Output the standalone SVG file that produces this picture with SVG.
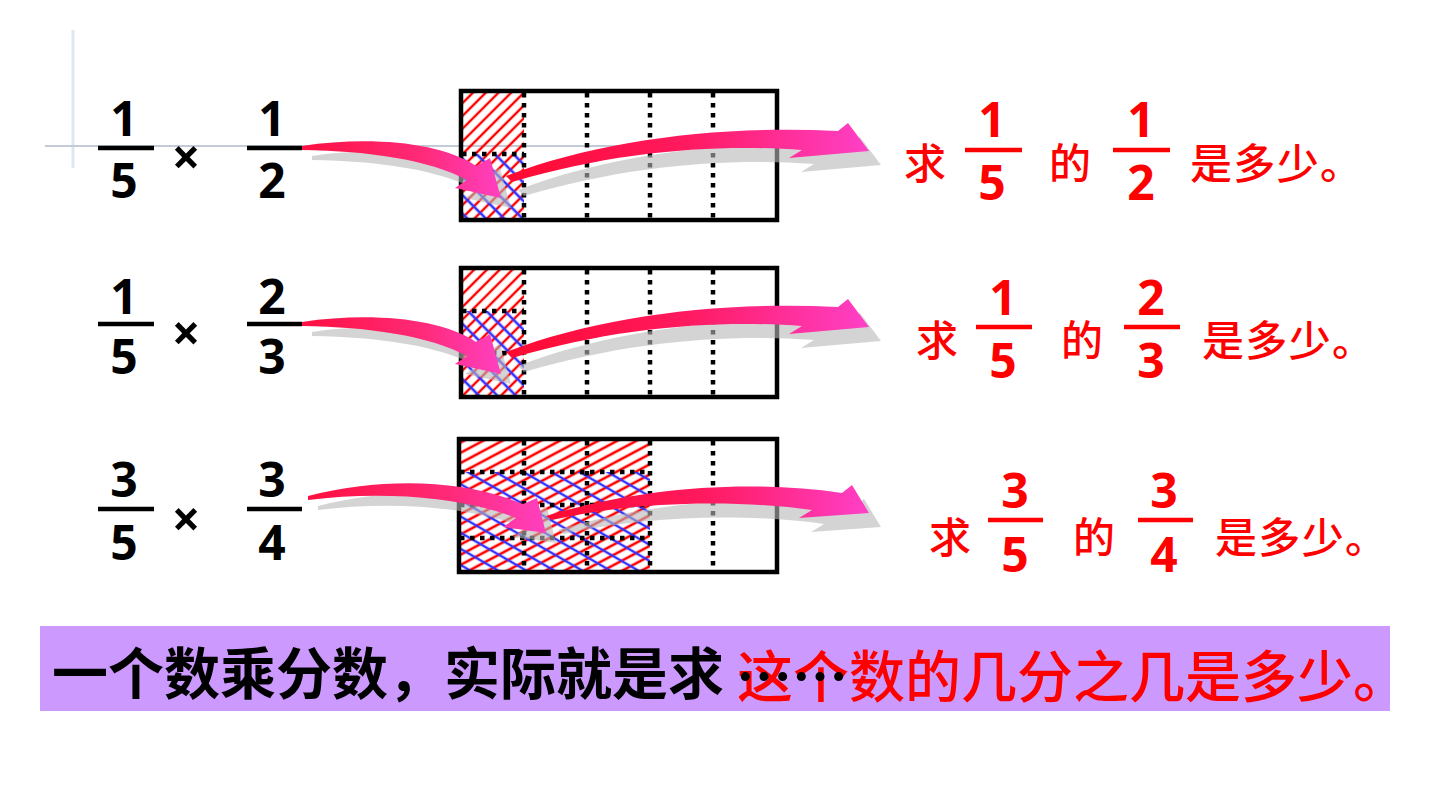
<svg xmlns="http://www.w3.org/2000/svg" width="1440" height="810" viewBox="0 0 1440 810">
<defs>
<style>
.num{font-family:"Noto Sans","Liberation Sans",sans-serif;font-weight:bold;font-size:48px;text-anchor:middle;fill:#000}
.rnum{font-family:"Noto Sans","Liberation Sans",sans-serif;font-weight:bold;font-size:48px;text-anchor:middle;fill:#ff0000}
.times{font-family:"Noto Sans","Liberation Sans",sans-serif;font-weight:bold;font-size:50px;text-anchor:middle;fill:#000}
.cn{font-family:"Noto Sans CJK SC",sans-serif;font-size:42px;font-weight:500;fill:#ff0000}
.bar{stroke:#000;stroke-width:4.5}
.rbar{stroke:#ff0000;stroke-width:4.5}
.box{fill:none;stroke:#000;stroke-width:4.5}
.dot{stroke:#000;stroke-width:4.5;stroke-dasharray:4.5 5.5;fill:none}
.shadow{fill:#b8b8b8;opacity:0.6}
.banner{fill:#cc99ff}
.big{font-family:"Noto Sans CJK SC",sans-serif;font-size:56px}
</style>
<pattern id="red45" width="9" height="9" patternUnits="userSpaceOnUse" patternTransform="rotate(-45)">
<line x1="0" y1="4" x2="9" y2="4" stroke="#ff0000" stroke-width="2.4"/>
</pattern>
<pattern id="blue45" width="13" height="13" patternUnits="userSpaceOnUse" patternTransform="rotate(45)">
<line x1="0" y1="6" x2="13" y2="6" stroke="#3333ff" stroke-width="2.6"/>
</pattern>
<pattern id="red30" width="9" height="9" patternUnits="userSpaceOnUse" patternTransform="rotate(-28)">
<line x1="0" y1="4" x2="9" y2="4" stroke="#ff0000" stroke-width="2.6"/>
</pattern>
<pattern id="blue30" width="14" height="14" patternUnits="userSpaceOnUse" patternTransform="rotate(30)">
<line x1="0" y1="7" x2="14" y2="7" stroke="#3333ff" stroke-width="2.4"/>
</pattern>
<linearGradient id="pinkA" x1="0" y1="0" x2="1" y2="0">
<stop offset="0" stop-color="#ff1040"/>
<stop offset="0.6" stop-color="#ff2a78"/>
<stop offset="1" stop-color="#ff40c0"/>
</linearGradient>
<linearGradient id="pinkB" x1="0" y1="0" x2="1" y2="0">
<stop offset="0" stop-color="#ff0a30"/>
<stop offset="0.5" stop-color="#ff1a60"/>
<stop offset="1" stop-color="#ff40c8"/>
</linearGradient>
<path id="arrA1" d="M 302 146 C 370 136, 440 142, 476 166 L 490 158 L 501 198 L 455 188 L 467 180 C 430 160, 370 151, 302 150 Z"/>
<path id="arrB1" d="M 506 176 C 600 140, 720 125, 838 131 L 848 123 L 869 151 L 789 158 L 802 150 C 720 144, 620 150, 512 182 Z"/>
<path id="arrA3" d="M 308 496 C 380 478, 460 478, 523 504 L 537 498 L 546 533 L 503 527 L 516 518 C 460 496, 380 491, 308 500 Z"/>
<path id="arrB3" d="M 546 516 C 630 490, 740 478, 842 493 L 852 485 L 869 513 L 799 518 L 812 510 C 740 500, 640 500, 552 520 Z"/>
</defs>

<rect width="1440" height="810" fill="#ffffff"/>

<g id="decoration">
<line x1="73" y1="30" x2="73" y2="168" stroke="#dde7f3" stroke-width="3"/>
<line x1="45" y1="146" x2="800" y2="146" stroke="#c3cbd8" stroke-width="2"/>
</g>

<g id="left-row1">
<text class="num" x="124" y="136">1</text>
<line class="bar" x1="98" y1="148" x2="154" y2="148"/>
<text class="num" x="124" y="198">5</text>
<text class="times" x="186" y="175">×</text>
<text class="num" x="272" y="136">1</text>
<line class="bar" x1="247" y1="148" x2="302" y2="148"/>
<text class="num" x="272" y="198">2</text>
</g>
<g id="left-row2">
<text class="num" x="124" y="314">1</text>
<line class="bar" x1="98" y1="324" x2="154" y2="324"/>
<text class="num" x="124" y="374">5</text>
<text class="times" x="186" y="351">×</text>
<text class="num" x="272" y="314">2</text>
<line class="bar" x1="247" y1="324" x2="302" y2="324"/>
<text class="num" x="272" y="374">3</text>
</g>
<g id="left-row3">
<text class="num" x="124" y="497">3</text>
<line class="bar" x1="98" y1="509" x2="154" y2="509"/>
<text class="num" x="124" y="560">5</text>
<text class="times" x="186" y="537">×</text>
<text class="num" x="272" y="497">3</text>
<line class="bar" x1="247" y1="509" x2="302" y2="509"/>
<text class="num" x="272" y="560">4</text>
</g>

<g id="box1">
<rect x="462" y="92" width="62" height="62" fill="url(#red45)"/>
<rect x="462" y="154" width="62" height="66" fill="url(#red45)"/>
<rect x="462" y="154" width="62" height="66" fill="url(#blue45)"/>
<line class="dot" x1="462" y1="154" x2="524" y2="154"/>
<line class="dot" x1="524" y1="93" x2="524" y2="219"/>
<line class="dot" x1="587" y1="93" x2="587" y2="219"/>
<line class="dot" x1="650" y1="93" x2="650" y2="219"/>
<line class="dot" x1="713" y1="93" x2="713" y2="219"/>
<rect class="box" x="461" y="91" width="316" height="129"/>
</g>

<g id="box2">
<rect x="462" y="269" width="62" height="42" fill="url(#red45)"/>
<rect x="462" y="311" width="62" height="85" fill="url(#red45)"/>
<rect x="462" y="311" width="62" height="85" fill="url(#blue45)"/>
<line class="dot" x1="462" y1="311" x2="524" y2="311"/>
<line class="dot" x1="462" y1="353" x2="524" y2="353"/>
<line class="dot" x1="524" y1="270" x2="524" y2="396"/>
<line class="dot" x1="587" y1="270" x2="587" y2="396"/>
<line class="dot" x1="650" y1="270" x2="650" y2="396"/>
<line class="dot" x1="713" y1="270" x2="713" y2="396"/>
<rect class="box" x="461" y="268" width="316" height="129"/>
</g>

<g id="box3">
<rect x="460" y="440" width="190" height="32" fill="url(#red30)"/>
<rect x="460" y="472" width="190" height="99" fill="url(#red30)"/>
<rect x="460" y="472" width="190" height="99" fill="url(#blue30)"/>
<line class="dot" x1="460" y1="472" x2="650" y2="472"/>
<line class="dot" x1="460" y1="505" x2="650" y2="505"/>
<line class="dot" x1="460" y1="538" x2="650" y2="538"/>
<line class="dot" x1="524" y1="441" x2="524" y2="570"/>
<line class="dot" x1="587" y1="441" x2="587" y2="570"/>
<line class="dot" x1="650" y1="441" x2="650" y2="570"/>
<line class="dot" x1="713" y1="441" x2="713" y2="570"/>
<rect class="box" x="459" y="439" width="318" height="133"/>
</g>

<g id="connectors">
<g id="arrows-row1">
<use href="#arrB1" class="shadow" transform="translate(12,14)"/>
<use href="#arrA1" class="shadow" transform="translate(10,10)"/>
<use href="#arrB1" fill="url(#pinkB)"/>
<use href="#arrA1" fill="url(#pinkA)"/>
</g>
<g id="arrows-row2" transform="translate(0,176)">
<use href="#arrB1" class="shadow" transform="translate(12,14)"/>
<use href="#arrA1" class="shadow" transform="translate(10,10)"/>
<use href="#arrB1" fill="url(#pinkB)"/>
<use href="#arrA1" fill="url(#pinkA)"/>
</g>
<g id="arrows-row3">
<use href="#arrB3" class="shadow" transform="translate(12,14)"/>
<use href="#arrA3" class="shadow" transform="translate(10,10)"/>
<use href="#arrB3" fill="url(#pinkB)"/>
<use href="#arrA3" fill="url(#pinkA)"/>
</g>
</g>

<g id="right-row1">
<text class="cn" x="904" y="179">求</text>
<text class="rnum" x="992" y="137">1</text>
<line class="rbar" x1="965" y1="150" x2="1022" y2="150"/>
<text class="rnum" x="992" y="200">5</text>
<text class="cn" x="1049" y="179">的</text>
<text class="rnum" x="1141" y="137">1</text>
<line class="rbar" x1="1113" y1="150" x2="1170" y2="150"/>
<text class="rnum" x="1141" y="200">2</text>
<text class="cn" x="1190" y="179" textLength="172">是多少。</text>
</g>
<g id="right-row2">
<text class="cn" x="916" y="356">求</text>
<text class="rnum" x="1003" y="315">1</text>
<line class="rbar" x1="976" y1="327" x2="1032" y2="327"/>
<text class="rnum" x="1003" y="378">5</text>
<text class="cn" x="1061" y="356">的</text>
<text class="rnum" x="1151" y="315">2</text>
<line class="rbar" x1="1124" y1="327" x2="1180" y2="327"/>
<text class="rnum" x="1151" y="378">3</text>
<text class="cn" x="1202" y="356" textLength="172">是多少。</text>
</g>
<g id="right-row3">
<text class="cn" x="929" y="553">求</text>
<text class="rnum" x="1015" y="508">3</text>
<line class="rbar" x1="988" y1="520" x2="1043" y2="520"/>
<text class="rnum" x="1015" y="572">5</text>
<text class="cn" x="1073" y="553">的</text>
<text class="rnum" x="1164" y="508">3</text>
<line class="rbar" x1="1138" y1="520" x2="1193" y2="520"/>
<text class="rnum" x="1164" y="572">4</text>
<text class="cn" x="1215" y="553" textLength="172">是多少。</text>
</g>

<g id="summary">
<rect class="banner" x="40" y="626" width="1350" height="85"/>
<text class="big" x="52" y="694" fill="#000" font-weight="bold">一个数乘分数，实际就是求</text>
<text class="big" x="737" y="697" fill="#ff0000" font-size="54" font-weight="500">这个数的几分之几是多少。</text>
<text class="big" x="736" y="698" fill="#000" font-size="52" font-weight="bold">……</text>
</g>
</svg>
